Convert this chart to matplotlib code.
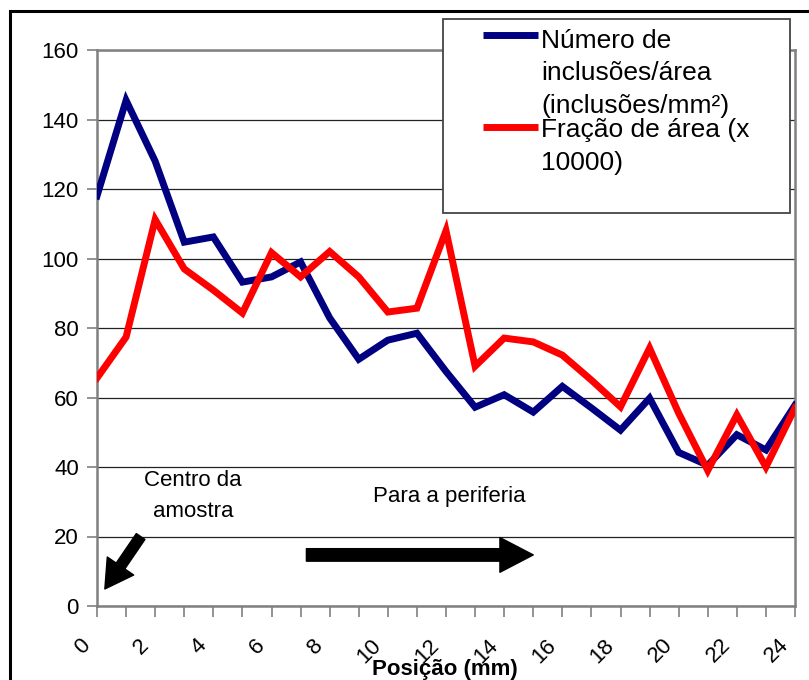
import matplotlib
matplotlib.use('Agg')
import matplotlib.pyplot as plt
import matplotlib.transforms as mtransforms
from matplotlib.patches import Rectangle
from matplotlib.lines import Line2D
import numpy as np

plt.rcParams['font.family'] = ['Liberation Sans', 'DejaVu Sans']

# %% data
posicao = np.arange(0, 25)
num_inclusoes = [118, 145.5, 128, 104.7, 106.2, 93.2, 94.7, 99, 82.9, 71, 76.5, 78.5,
                 67.5, 57.2, 60.8, 55.8, 63.2, 57, 50.6, 59.8, 44.2, 40.5, 49.3, 44.9, 57.8]
fracao_area = [65.6, 77.4, 111.2, 97, 90.9, 84.3, 101.7, 94.7, 102, 94.7, 84.6, 85.7,
               108, 69, 77.1, 76, 72.2, 65, 57.3, 74.2, 55.5, 39, 55, 40, 57]
label_num = 'Número de\ninclusões/área\n(inclusões/mm²)'
label_frac = 'Fração de área (x\n10000)'
x_ticks = np.arange(0, 25, 1)
y_ticks = np.arange(0, 161, 20)

c_blue = '#000080'
c_red = '#ff0000'
c_frame = '#808080'

# %% figure
fig = plt.figure(figsize=(8.09, 6.8), dpi=100)
ax = fig.add_axes([97/809, 1-606/680, 698/809, 556/680])

ax.plot(posicao, num_inclusoes, color=c_blue, lw=5, solid_joinstyle='miter', zorder=3)
ax.plot(posicao, fracao_area, color=c_red, lw=5, solid_joinstyle='miter', zorder=4)

ax.set_xlim(0, 24)
ax.set_ylim(0, 160)
ax.set_yticks(y_ticks)
ax.set_xticks(x_ticks)
ax.set_xticklabels([str(v) if v % 2 == 0 else '' for v in x_ticks],
                   rotation=45, ha='right', va='top', rotation_mode='anchor')
ax.tick_params(axis='y', direction='out', length=7, width=1.2, color=c_frame,
               labelsize=16, pad=6)
ax.tick_params(axis='x', direction='out', length=8, width=1.2, color=c_frame,
               labelsize=16, pad=4)
# shift rotated x labels like the original (Excel style)
shift = mtransforms.ScaledTranslation(-0.17, -0.12, fig.dpi_scale_trans)
for lbl in ax.get_xticklabels():
    lbl.set_transform(lbl.get_transform() + shift)
for s in ax.spines.values():
    s.set_color(c_frame)
    s.set_linewidth(1.8)
ax.grid(axis='y', color='#222222', lw=0.9)
ax.set_axisbelow(True)

ax.set_xlabel('Posição (mm)', fontsize=16, fontweight='bold')
ax.xaxis.set_label_coords((445-97)/698, (606-675)/556)
ax.xaxis.label.set_va('baseline')

# annotations (va='baseline' -> baseline of last line)
ax.text(3.3, (606-517)/3.475, 'Centro da\namostra', fontsize=16, ha='center', va='baseline',
        linespacing=1.6)
ax.text(12.1, (606-502)/3.475, 'Para a periferia', fontsize=16, ha='center', va='baseline')
ax.annotate('', xy=(15.0, 14.7), xytext=(7.2, 14.7),
            arrowprops=dict(arrowstyle='simple,head_length=2.4,head_width=2.5,tail_width=0.9',
                            mutation_scale=10, color='black', shrinkA=0, shrinkB=0))
ax.annotate('', xy=(0.27, 4.9), xytext=(1.5, 20),
            arrowprops=dict(arrowstyle='simple,head_length=2.0,head_width=2.3,tail_width=0.75',
                            mutation_scale=10, color='black', shrinkA=0, shrinkB=0))

# legend drawn by hand (handles aligned with first text line)
lx0, lx1 = 443/809, 790/809
ly0, ly1 = 1-213/680, 1-19/680
fig.patches.append(Rectangle((lx0, ly0), lx1-lx0, ly1-ly0, transform=fig.transFigure,
                             facecolor='white', edgecolor='#444444', lw=1.3, zorder=5))
fig.lines.append(Line2D([483/809, 538/809], [1-35/680]*2, transform=fig.transFigure,
                        color=c_blue, lw=5, solid_capstyle='butt', zorder=6))
fig.lines.append(Line2D([483/809, 538/809], [1-127/680]*2, transform=fig.transFigure,
                        color=c_red, lw=5, solid_capstyle='butt', zorder=6))
fig.text(541/809, 1-113/680, label_num, fontsize=19, va='baseline', ha='left',
         linespacing=1.45, zorder=7)
fig.text(541/809, 1-170/680, label_frac, fontsize=19, va='baseline', ha='left',
         linespacing=1.45, zorder=7)

# outer chart border
fig.patches.append(Rectangle((10/809, -0.5), 2, 1.5-11/680, transform=fig.transFigure,
                             fill=False, edgecolor='black', lw=2.2, zorder=8))

fig.savefig('out.png', dpi=100)
